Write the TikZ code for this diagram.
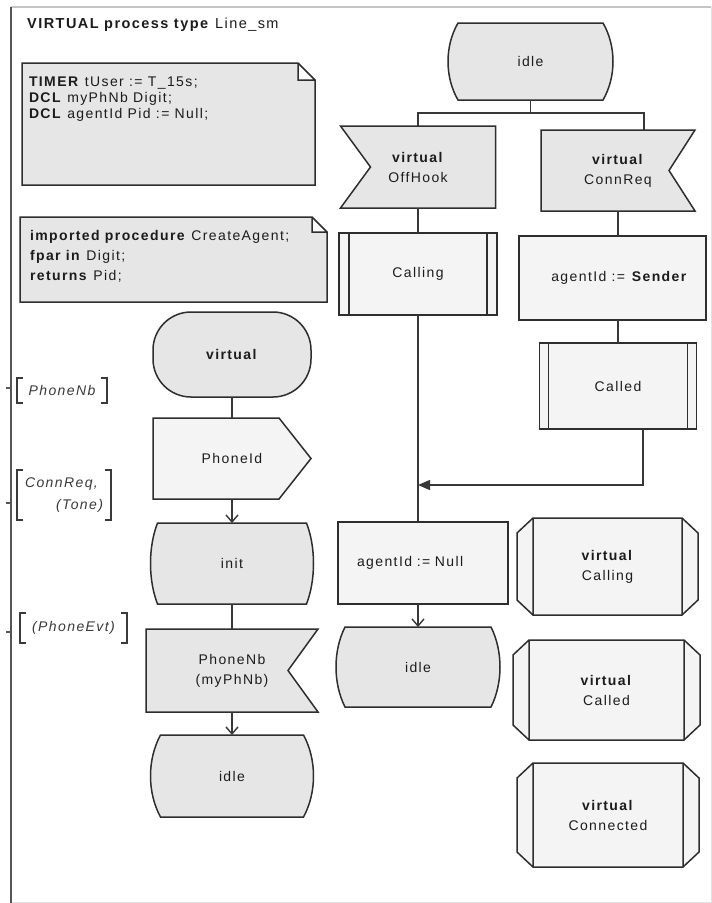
\documentclass[tikz,border=0pt]{standalone}
\usepackage{fontspec}
\setmainfont{Liberation Sans}[LetterSpace=10]
\usetikzlibrary{arrows.meta,calc}
\pgfdeclarelayer{background}
\pgfsetlayers{background,main}

\definecolor{ink}{HTML}{1C1C1C}
\definecolor{edge}{HTML}{2E2E2E}
\definecolor{wire}{HTML}{383838}
\definecolor{symfill}{HTML}{E6E6E6}
\definecolor{litefill}{HTML}{F4F4F4}
\definecolor{framedark}{HTML}{555555}
\definecolor{framelight}{HTML}{C4C4C4}
\definecolor{framefaint}{HTML}{E2E2E2}
\definecolor{gateink}{HTML}{3A3A3A}

\newcommand\symfont{\fontsize{14}{20}\selectfont}

% SDL symbol outlines, built from the anchors of a named node
\newcommand\notepath[2]{%
  \path[shp, fill=symfill] let \p1=(#1.north west), \p2=(#1.south east) in
    (\x1,\y1) -- (\x2-#2pt,\y1) -- (\x2,\y1-#2pt) -- (\x2,\y2) -- (\x1,\y2) -- cycle
    (\x2-#2pt,\y1) -- (\x2-#2pt,\y1-#2pt) -- (\x2,\y1-#2pt);}
\newcommand\stateshape[2]{%
  \path[shp, fill=symfill] let \p1=(#1.north west), \p2=(#1.south east) in
    (\x1+#2pt,\y1) -- (\x2-#2pt,\y1)
    .. controls (\x2+#2pt/3,0.7*\y1+0.3*\y2) and (\x2+#2pt/3,0.3*\y1+0.7*\y2) .. (\x2-#2pt,\y2)
    -- (\x1+#2pt,\y2)
    .. controls (\x1-#2pt/3,0.3*\y1+0.7*\y2) and (\x1-#2pt/3,0.7*\y1+0.3*\y2) .. (\x1+#2pt,\y1)
    -- cycle;}
\newcommand\outshape[2]{%
  \path[shp, fill=litefill] let \p1=(#1.north west), \p2=(#1.south east) in
    (\x1,\y1) -- (\x2-#2pt,\y1) -- (\x2,0.5*\y1+0.5*\y2) -- (\x2-#2pt,\y2) -- (\x1,\y2) -- cycle;}
\newcommand\inshapeR[2]{%
  \path[shp, fill=symfill] let \p1=(#1.north west), \p2=(#1.south east) in
    (\x1,\y1) -- (\x2,\y1) -- (\x2-#2pt,0.5*\y1+0.5*\y2) -- (\x2,\y2) -- (\x1,\y2) -- cycle;}
\newcommand\inshapeL[2]{%
  \path[shp, fill=symfill] let \p1=(#1.north west), \p2=(#1.south east) in
    (\x1,\y1) -- (\x2,\y1) -- (\x2,\y2) -- (\x1,\y2) -- (\x1+#2pt,0.5*\y1+0.5*\y2) -- cycle;}
\newcommand\procshape[2]{%
  \path[shp, fill=litefill] (#1.north west) rectangle (#1.south east);
  \draw[shp] ([xshift=#2pt]#1.north west) -- ([xshift=#2pt]#1.south west)
             ([xshift=-#2pt]#1.north east) -- ([xshift=-#2pt]#1.south east);}
\newcommand\taskshape[1]{%
  \path[shp, fill=litefill] (#1.north west) rectangle (#1.south east);}
\newcommand\vprocshape[1]{%
  \path[shp, fill=litefill] let \p1=(#1.north west), \p2=(#1.south east) in
    (\x1,\y1) -- (\x2,\y1) -- (\x2+16pt,\y1-15pt) -- (\x2+16pt,\y2+15pt) -- (\x2,\y2)
    -- (\x1,\y2) -- (\x1-16pt,\y2+15pt) -- (\x1-16pt,\y1-15pt) -- cycle
    (\x1,\y1) -- (\x1,\y2) (\x2,\y1) -- (\x2,\y2);}
\newcommand\gatebracket[1]{%
  \draw[bracketline] let \p1=(#1.north west), \p2=(#1.south east) in
    (\x1+6pt,\y1) -- (\x1,\y1) -- (\x1,\y2) -- (\x1+6pt,\y2)
    (\x2-6pt,\y1) -- (\x2,\y1) -- (\x2,\y2) -- (\x2-6pt,\y2);}

\tikzset{
  sym/.style={inner sep=0pt, outer sep=0pt, font=\symfont, text=ink, align=center},
  sz/.style 2 args={minimum width=#1pt, minimum height=#2pt},
  shp/.style={draw=edge, line width=1.5pt, line join=miter},
  conn/.style={draw=wire, line width=1.4pt},
  flow/.style={conn, -{Straight Barb[length=7pt,width=12pt]}},
  joinarrow/.style={conn, -{Triangle[length=12pt,width=10pt]}},
  gate/.style={inner sep=0pt, outer sep=0pt, font=\fontsize{14}{22}\selectfont\itshape,
    text=gateink, align=left},
  bracketline/.style={draw=gateink, line width=1.2pt},
}

\begin{document}
\begin{tikzpicture}[x=1pt,y=-1pt]
\useasboundingbox (0,0) rectangle (712,903);

% diagram frame
\draw[framefaint, line width=1pt] (711,7) -- (711,902) -- (11,902);
\draw[framelight, line width=1.2pt] (11,7) -- (711,7);
\draw[framedark, line width=2pt] (11,7) -- (11,903);

% heading
\node[anchor=base west, inner sep=0pt, text=ink, font=\fontsize{14.5}{17}\selectfont]
  (title) at (27,28) {\textbf{VIRTUAL process type} Line\_sm};

% text symbols
\node[inner sep=0pt, outer sep=0pt, anchor=north west, text=ink] (decl) at (22,63)
  {\parbox[t][122pt][t]{293pt}{\fontsize{14}{16}\selectfont\leftskip=7pt\vspace*{13.5pt}%
   \textbf{TIMER} tUser := T\_15s;\\\textbf{DCL} myPhNb Digit;\\\textbf{DCL} agentId Pid := Null;}};
\node[inner sep=0pt, outer sep=0pt, anchor=north west, text=ink] (proto) at (20,217)
  {\parbox[t][85pt][t]{307pt}{\fontsize{14}{20}\selectfont\leftskip=10pt\vspace*{13.8pt}%
   \textbf{imported procedure} CreateAgent;\\\textbf{fpar in} Digit;\\\textbf{returns} Pid;}};

% start transition
\node[sym, sz={158}{85}] (vstart) at (232,354.5) {\textbf{virtual}};
\node[sym, sz={158}{81}] (phoneid) at (232,458.5) {PhoneId};
\node[sym, sz={163}{81}] (init) at (232,563.5) {init};
\node[sym, sz={172}{83}] (phonenb) at (232,670.5) {PhoneNb\\(myPhNb)};
\node[sym, sz={163}{82}] (idle1) at (232,776) {idle};

% gates
\node[gate, sz={90}{25}] (gPhoneNb) at (62,390.5) {PhoneNb};
\node[gate, sz={94}{50}] (gConnReq) at (64,495) {ConnReq,\\\hspace*{31pt}(Tone)};
\node[gate, sz={107}{30}] (gPhoneEvt) at (73.5,628) {(PhoneEvt)};

% idle state transitions
\node[sym, sz={165}{77}] (idletop) at (530.5,61.5) {idle};
\node[sym, sz={155}{82}] (offhook) at (418,167) {\textbf{virtual}\\OffHook};
\node[sym, sz={154}{81}] (connreq) at (618,170.5) {\textbf{virtual}\\ConnReq};
\node[sym, sz={158}{82}] (calling) at (418,274) {Calling};
\node[sym, sz={187}{84}] (agentsender) at (612.5,278) {\hspace*{14pt}agentId := \textbf{Sender}};
\node[sym, sz={157}{86}] (called) at (618,386) {Called};
\node[sym, sz={170}{82}, text width=132pt, align=left] (agentnull) at (423,563) {agentId := Null};
\node[sym, sz={164}{80}] (idle2) at (418,667) {idle};

% virtual procedure definitions
\node[sym, sz={149}{97}] (vcalling) at (607.5,566.5) {\textbf{virtual}\\Calling};
\node[sym, sz={155}{100}] (vcalled) at (606.5,690) {\textbf{virtual}\\Called};
\node[sym, sz={150}{104}] (vconnected) at (608,815) {\textbf{virtual}\\Connected};

\begin{pgfonlayer}{background}
  \fill[white] (0,0) rectangle (712,903);
  \notepath{decl}{17}
  \notepath{proto}{15}
  \path[shp, fill=symfill, rounded corners=38pt] (vstart.north west) rectangle (vstart.south east);
  \outshape{phoneid}{32}
  \stateshape{init}{7}
  \inshapeR{phonenb}{30}
  \stateshape{idle1}{10}
  \stateshape{idletop}{10}
  \inshapeL{offhook}{30}
  \inshapeR{connreq}{26}
  \procshape{calling}{10}
  \taskshape{agentsender}
  \procshape{called}{9}
  \taskshape{agentnull}
  \stateshape{idle2}{9}
  \vprocshape{vcalling}
  \vprocshape{vcalled}
  \vprocshape{vconnected}
\end{pgfonlayer}

% gate brackets and their marks on the frame
\gatebracket{gPhoneNb}
\gatebracket{gConnReq}
\gatebracket{gPhoneEvt}
\draw[framedark, line width=1.6pt] (6,388) -- (11,388) (6,503) -- (11,503) (6,632) -- (11,632);

% flow lines
\draw[conn] (vstart.south) -- (phoneid.north);
\draw[flow] (phoneid.south) -- (init.north);
\draw[conn] (init.south) -- (phonenb.north);
\draw[flow] (phonenb.south) -- (idle1.north);

\coordinate (fork) at ($(idletop.south)+(0,13)$);
\draw[conn] (idletop.south) -- (fork);
\draw[conn] (fork) -| (offhook.north);
\draw[conn] (fork) -| ([xshift=26pt]connreq.north);
\draw[conn] (offhook.south) -- (calling.north);
\draw[conn] (calling.south) -- (calling.south |- agentnull.north);
\draw[flow] (idle2.north |- agentnull.south) -- (idle2.north);
\draw[conn] (connreq.south) -- (connreq.south |- agentsender.north);
\draw[conn] (called.north |- agentsender.south) -- (called.north);
\coordinate (merge) at (calling.south |- 0,485);
\draw[joinarrow] ([xshift=25pt]called.south) |- (merge);
\end{tikzpicture}
\end{document}
